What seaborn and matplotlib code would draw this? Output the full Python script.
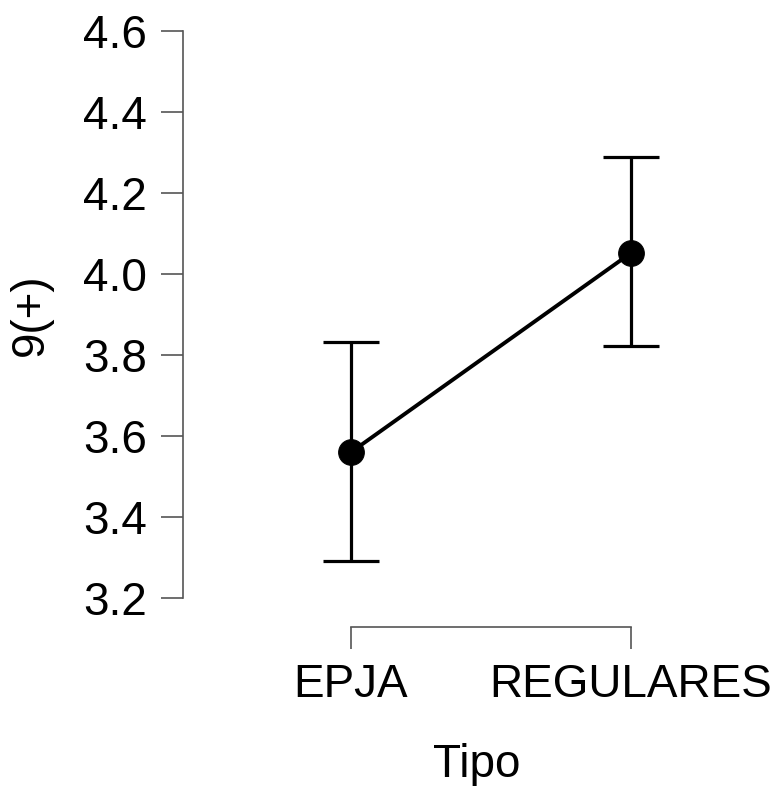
import matplotlib
matplotlib.use('Agg')
import matplotlib.pyplot as plt
import seaborn as sns
import pandas as pd

# values
tipo = ['EPJA', 'REGULARES']
means = [3.56, 4.052]
ci_lower = [3.291, 3.822]
ci_upper = [3.832, 4.288]
y_ticks = [3.2, 3.4, 3.6, 3.8, 4.0, 4.2, 4.4, 4.6]

df = pd.DataFrame({'Tipo': tipo, 'mean': means, 'lo': ci_lower, 'hi': ci_upper})
df['pos'] = range(len(df))

sns.set_style('white')
plt.rcParams['font.family'] = ['Liberation Sans', 'DejaVu Sans']

fig = plt.figure(figsize=(7.72, 7.86), dpi=100)
ax = fig.add_axes([183 / 772, 188 / 786, 588 / 772, 567 / 786])

# error bars
ax.errorbar(df['pos'], df['mean'],
            yerr=[df['mean'] - df['lo'], df['hi'] - df['mean']],
            fmt='none', ecolor='black', elinewidth=2.3, capsize=20, capthick=2.3,
            zorder=1)
# line + points
sns.lineplot(data=df, x='pos', y='mean', color='black', linewidth=2.8,
             marker='o', markersize=18.5, markeredgecolor='black', ax=ax, zorder=2)

ax.set_xlim(-0.6, 1.5)
ax.set_ylim(3.2, 4.6)
ax.set_xticks(df['pos'])
ax.set_xticklabels(tipo)
ax.set_yticks(y_ticks)
ax.set_yticklabels([f'{v:.1f}' for v in y_ticks])

ax.spines['top'].set_visible(False)
ax.spines['right'].set_visible(False)
for s in ['left', 'bottom']:
    ax.spines[s].set_color('#555555')
    ax.spines[s].set_linewidth(1.2)
ax.spines['bottom'].set_position(('outward', 21))
ax.spines['bottom'].set_bounds(0, 1)
ax.spines['left'].set_bounds(3.2, 4.6)

ax.tick_params(axis='both', which='major', direction='out', length=16, width=1.2,
               color='#555555', labelsize=33, pad=10, labelcolor='black',
               left=True, bottom=True)

ax.set_xlabel('Tipo', fontsize=33, labelpad=26, color='black')
ax.set_ylabel('9(+)', fontsize=33, labelpad=22, color='black')

fig.savefig('out.png', dpi=100, facecolor='white')
